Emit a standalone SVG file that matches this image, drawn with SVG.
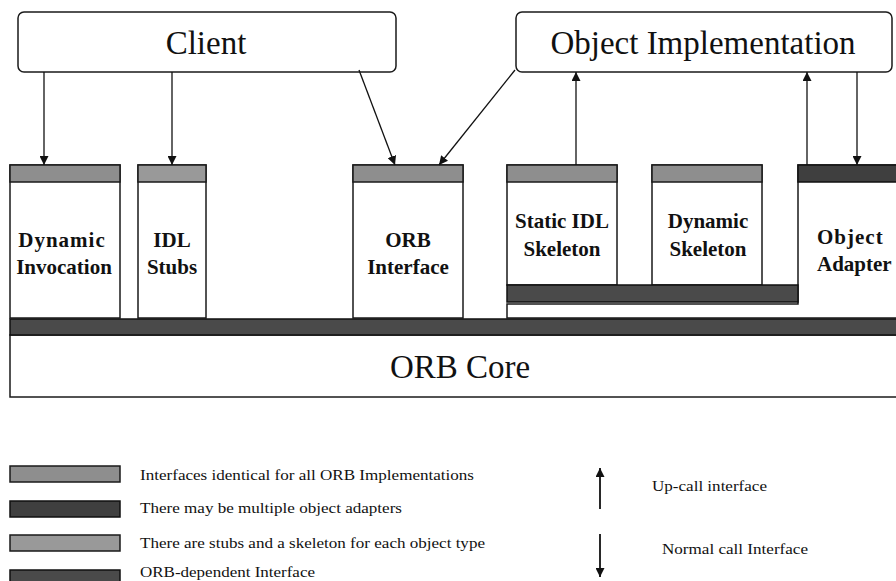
<svg xmlns="http://www.w3.org/2000/svg" width="896" height="581" viewBox="0 0 896 581">
<style>
.box{fill:#fff;stroke:#1a1a1a;stroke-width:1.5}
.lt{fill:#8e8e8e;stroke:#1a1a1a;stroke-width:1.5}
.lt2{fill:#999;stroke:#1a1a1a;stroke-width:1.5}
.dk{fill:#4a4a4a;stroke:#111;stroke-width:1.5}
.dk2{fill:#3f3f3f;stroke:#111;stroke-width:1.5}
.big{font-family:"Liberation Serif",serif;font-size:33px;fill:#111;text-anchor:middle}
.lbl{font-family:"Liberation Serif",serif;font-size:21px;font-weight:bold;fill:#111;text-anchor:middle}
.leg{font-family:"Liberation Serif",serif;font-size:14px;fill:#111}
.ln{stroke:#111;stroke-width:1.3;fill:none}
.ln2{stroke:#111;stroke-width:1.8;fill:none}
</style>
<defs>
<marker id="ah" viewBox="0 0 10 10" refX="10" refY="5" markerWidth="9" markerHeight="9" markerUnits="userSpaceOnUse" orient="auto">
<path d="M0,0 L10,5 L0,10 z" fill="#111"/>
</marker>
</defs>
<rect width="896" height="581" fill="#fff"/>

<g id="client">
<rect class="box" x="18" y="12" width="378" height="60" rx="6"/>
<text class="big" x="206" y="54">Client</text>
</g>
<g id="object-implementation">
<rect class="box" x="516" y="12" width="376" height="60" rx="6"/>
<text class="big" x="703" y="54">Object Implementation</text>
</g>

<g id="dynamic-invocation">
<rect class="box" x="10" y="165" width="110" height="153"/>
<rect class="lt" x="10" y="165" width="110" height="17"/>
<text class="lbl" x="62" y="247" letter-spacing="1">Dynamic</text>
<text class="lbl" x="64" y="274">Invocation</text>
</g>
<g id="idl-stubs">
<rect class="box" x="138" y="165" width="68" height="153"/>
<rect class="lt2" x="138" y="165" width="68" height="17"/>
<text class="lbl" x="172" y="247">IDL</text>
<text class="lbl" x="172" y="274">Stubs</text>
</g>
<g id="orb-interface">
<rect class="box" x="353" y="165" width="110" height="153"/>
<rect class="lt" x="353" y="165" width="110" height="17"/>
<text class="lbl" x="408" y="247">ORB</text>
<text class="lbl" x="408" y="274">Interface</text>
</g>
<g id="object-adapter">
<path class="box" d="M798,165 H900 V318 H507 V304 H798 Z"/>
<rect class="dk2" x="798" y="165" width="102" height="17"/>
<text class="lbl" x="817" y="244" style="text-anchor:start" letter-spacing="1">Object</text>
<text class="lbl" x="817" y="271" style="text-anchor:start">Adapter</text>
</g>
<g id="static-idl-skeleton">
<rect class="box" x="507" y="165" width="110" height="120"/>
<rect class="lt" x="507" y="165" width="110" height="17"/>
<text class="lbl" x="562" y="228">Static IDL</text>
<text class="lbl" x="562" y="256">Skeleton</text>
</g>
<g id="dynamic-skeleton">
<rect class="box" x="652" y="165" width="110" height="120"/>
<rect class="lt" x="652" y="165" width="110" height="17"/>
<text class="lbl" x="708" y="228">Dynamic</text>
<text class="lbl" x="708" y="256">Skeleton</text>
</g>
<g id="skeleton-interface-bar">
<rect class="dk" x="507" y="285" width="291" height="17"/>
</g>
<g id="orb-core">
<rect class="box" x="10" y="335" width="890" height="62"/>
<rect class="dk" x="10" y="319" width="890" height="16"/>
<text class="big" x="460" y="378">ORB Core</text>
</g>

<g id="connectors">
<line class="ln" x1="44" y1="72" x2="44" y2="165" marker-end="url(#ah)"/>
<line class="ln" x1="172" y1="72" x2="172" y2="165" marker-end="url(#ah)"/>
<line class="ln" x1="359" y1="70" x2="395" y2="165" marker-end="url(#ah)"/>
<line class="ln" x1="515" y1="70" x2="439" y2="165" marker-end="url(#ah)"/>
<line class="ln" x1="576" y1="165" x2="576" y2="72" marker-end="url(#ah)"/>
<line class="ln" x1="807" y1="165" x2="807" y2="72" marker-end="url(#ah)"/>
<line class="ln" x1="857" y1="72" x2="857" y2="165" marker-end="url(#ah)"/>
</g>

<g id="legend">
<rect class="lt" x="10" y="466" width="110" height="16"/>
<text class="leg" x="140" y="480" textLength="334" lengthAdjust="spacingAndGlyphs">Interfaces identical for all ORB Implementations</text>
<rect class="dk2" x="10" y="501" width="110" height="16"/>
<text class="leg" x="140" y="513" textLength="262" lengthAdjust="spacingAndGlyphs">There may be multiple object adapters</text>
<rect class="lt2" x="10" y="535" width="110" height="16"/>
<text class="leg" x="140" y="548" textLength="345" lengthAdjust="spacingAndGlyphs">There are stubs and a skeleton for each object type</text>
<rect class="dk" x="10" y="570" width="110" height="16"/>
<text class="leg" x="140" y="577" textLength="175" lengthAdjust="spacingAndGlyphs">ORB-dependent Interface</text>
<line class="ln2" x1="600" y1="509" x2="600" y2="468" marker-end="url(#ah)"/>
<text class="leg" x="652" y="491" textLength="115" lengthAdjust="spacingAndGlyphs">Up-call interface</text>
<line class="ln2" x1="600" y1="534" x2="600" y2="577" marker-end="url(#ah)"/>
<text class="leg" x="662" y="554" textLength="146" lengthAdjust="spacingAndGlyphs">Normal call Interface</text>
</g>
</svg>
